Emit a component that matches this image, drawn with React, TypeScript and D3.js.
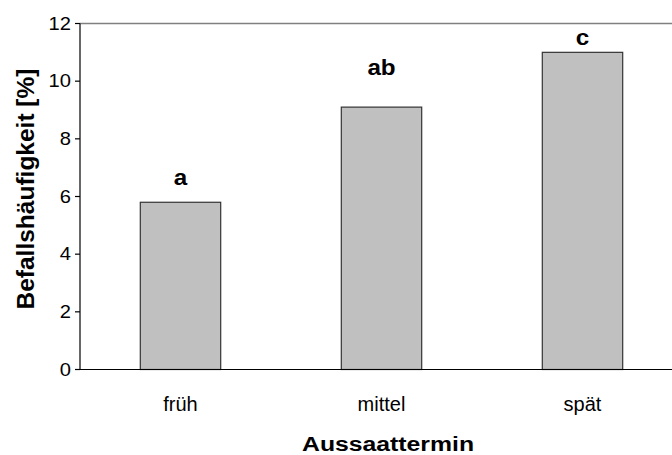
import React from "react";
import * as d3 from "d3";

// Sowing date categories and infestation frequency (%)
const categories = ["früh", "mittel", "spät"];
const values = [5.8, 9.1, 11.0];
// Significance letters and the height (in % units) where each sits
const letters = ["a", "ab", "c"];
const letterLevels = [6.4, 10.2, 11.25];
const yTicks = [0, 2, 4, 6, 8, 10, 12];

const W = 672;
const H = 455;
const FONT = "'Liberation Sans', Arial, sans-serif";

export default function App() {
  const left = 80;
  const top = 23.5;
  const bottom = 369.5;

  const x = d3.scaleBand<string>().domain(categories).range([left, left + 603]).padding(0);
  const y = d3.scaleLinear().domain([0, 12]).range([bottom, top]);
  const barW = x.bandwidth() * 0.4;

  return (
    <svg
      width={W}
      height={H}
      style={{ position: "absolute", left: 0, top: 0, background: "#fff" }}
      fontFamily={FONT}
    >
      {/* bars */}
      {categories.map((c, i) => {
        const cx = (x(c) as number) + x.bandwidth() / 2;
        return (
          <rect
            key={c}
            x={cx - barW / 2}
            y={y(values[i])}
            width={barW}
            height={bottom - y(values[i])}
            fill="#c0c0c0"
            stroke="#333"
            strokeWidth={1.2}
          />
        );
      })}

      {/* plot frame: top border */}
      <line x1={left} x2={W} y1={top} y2={top} stroke="#808080" strokeWidth={1.5} />
      {/* axes */}
      <line x1={left} x2={W} y1={bottom} y2={bottom} stroke="#000" strokeWidth={1.2} />
      <line x1={left} x2={left} y1={top} y2={bottom} stroke="#000" strokeWidth={1.2} />

      {/* y ticks */}
      {yTicks.map((t) => (
        <g key={t}>
          <line x1={left - 5} x2={left} y1={y(t)} y2={y(t)} stroke="#000" strokeWidth={1.2} />
          <text
            transform={`translate(${left - 9},${y(t) + 6.3}) scale(1.15,1)`}
            textAnchor="end"
            fontSize={17.5}
            fill="#000"
          >
            {t}
          </text>
        </g>
      ))}

      {/* category labels */}
      {categories.map((c) => (
        <text
          key={c}
          x={(x(c) as number) + x.bandwidth() / 2}
          y={411}
          textAnchor="middle"
          fontSize={20}
          fill="#000"
        >
          {c}
        </text>
      ))}

      {/* significance letters */}
      {categories.map((c, i) => (
        <text
          key={c}
          transform={`translate(${(x(c) as number) + x.bandwidth() / 2},${y(letterLevels[i])}) scale(1.1,1)`}
          textAnchor="middle"
          fontSize={22}
          fontWeight="bold"
          fill="#000"
        >
          {letters[i]}
        </text>
      ))}

      {/* axis titles */}
      <text
        transform={`translate(388,451) scale(1.18,1)`}
        textAnchor="middle"
        fontSize={21}
        fontWeight="bold"
        fill="#000"
      >
        Aussaattermin
      </text>
      <text
        transform={`translate(34,189) rotate(-90)`}
        textAnchor="middle"
        fontSize={24.5}
        fontWeight="bold"
        fill="#000"
      >
        Befallshäufigkeit [%]
      </text>
    </svg>
  );
}
